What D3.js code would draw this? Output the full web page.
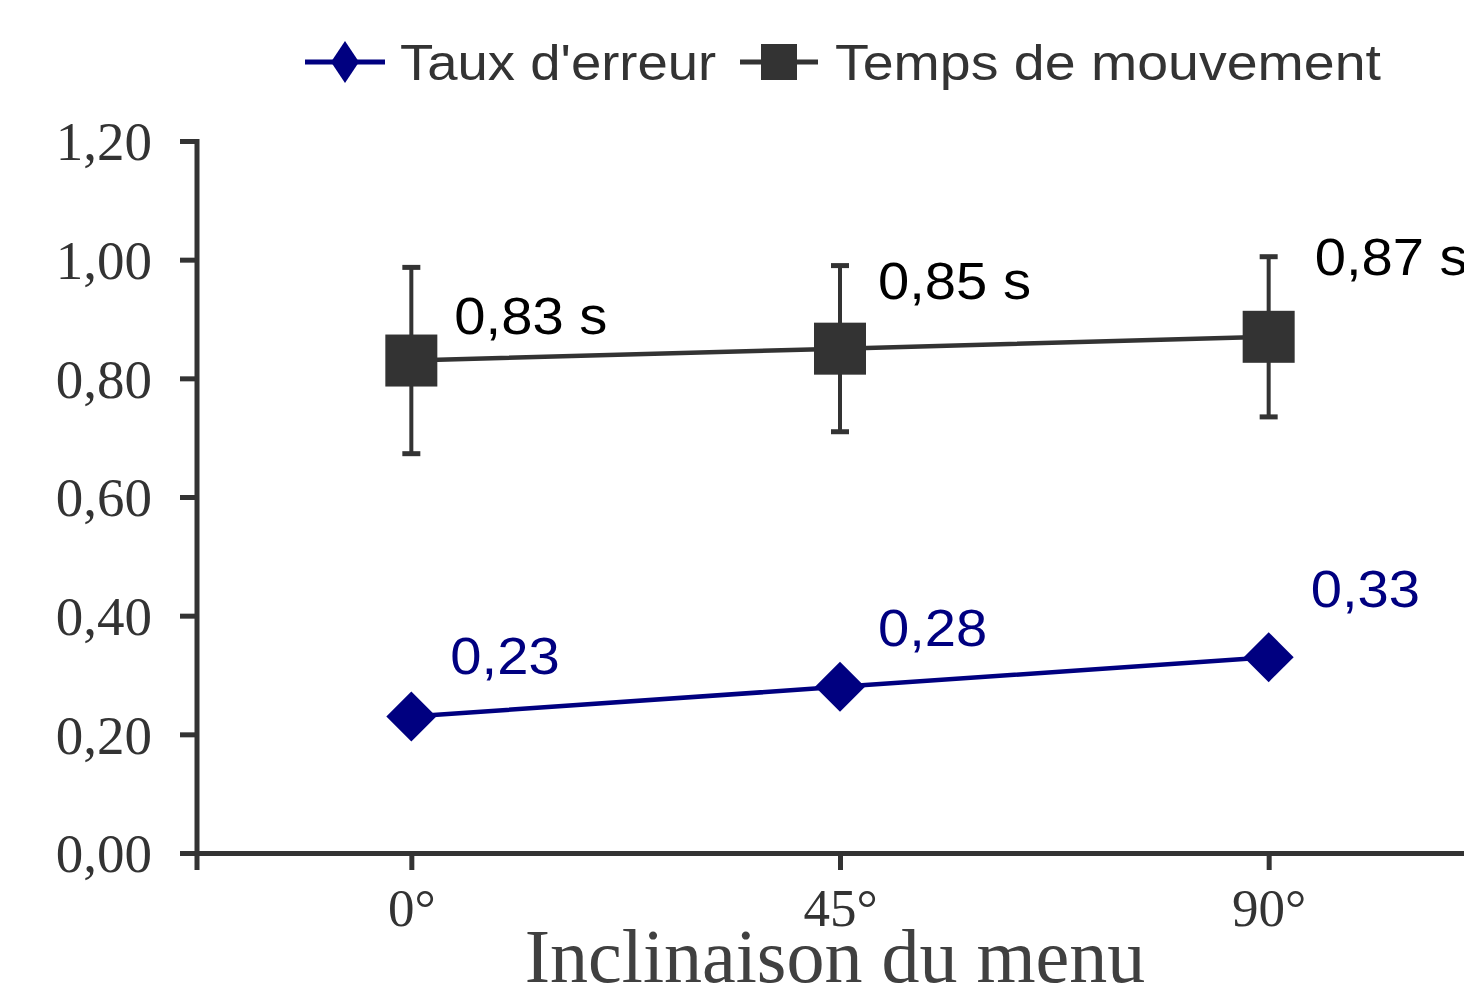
<!DOCTYPE html>
<html>
<head>
<meta charset="utf-8">
<script src="https://cdn.jsdelivr.net/npm/d3@7"></script>
<style>
  body { margin: 0; background: #fff; }
  svg { display: block; }
</style>
</head>
<body>
<svg id="chart"></svg>
<script>
// Data
const categories = ["0°", "45°", "90°"];
const tauxErreur = [0.23, 0.28, 0.33];
const tempsMouvement = [0.83, 0.85, 0.87];
const tempsErreurs = [0.157, 0.14, 0.135];
const tauxLabels = ["0,23", "0,28", "0,33"];
const tempsLabels = ["0,83 s", "0,85 s", "0,87 s"];
const yTicks = [0, 0.2, 0.4, 0.6, 0.8, 1.0, 1.2];

// Label offsets (placed by hand in the original)
const tauxOffsets = [[39, -43], [38, -41], [42, -50]];
const tempsOffsets = [[43, -27], [38, -50], [46, -62]];

const width = 1464;
const height = 998;
const navy = "#000080";
const dark = "#333333";
const sans = "'Liberation Sans', Arial, sans-serif";
const serif = "'Liberation Serif', 'Times New Roman', serif";

const svg = d3.select("#chart")
  .attr("width", width)
  .attr("height", height);

// Sans texts in the original are a little wider than Arial
function wideText(g, x, y, txt, size, fill, stretch) {
  return g.append("text")
    .attr("transform", `translate(${x},${y}) scale(${stretch},1)`)
    .attr("font-family", sans)
    .attr("font-size", size)
    .attr("fill", fill)
    .text(txt);
}

// Scales
const x = d3.scalePoint()
  .domain(categories)
  .range([197, 1483])
  .padding(0.5);

const y = d3.scaleLinear()
  .domain([0, 1.2])
  .range([853, 141]);

const fmt = (v) => v.toFixed(2).replace(".", ",");

// Y axis
const yAxis = d3.axisLeft(y)
  .tickValues(yTicks)
  .tickFormat(fmt)
  .tickSize(17)
  .tickSizeOuter(0)
  .tickPadding(28);

const gy = svg.append("g")
  .attr("transform", "translate(197,0)")
  .call(yAxis);
gy.select(".domain").remove();
gy.selectAll(".tick line").attr("stroke", dark).attr("stroke-width", 5);
gy.selectAll(".tick text")
  .attr("font-family", serif)
  .attr("font-size", 55)
  .attr("fill", "#333")
  .attr("dy", "0.34em");

// X axis
const xAxis = d3.axisBottom(x)
  .tickSize(17)
  .tickSizeOuter(0)
  .tickPadding(18);

const gx = svg.append("g")
  .attr("transform", `translate(0,${y(0)})`)
  .call(xAxis);
gx.select(".domain").attr("stroke", dark).attr("stroke-width", 5);
gx.selectAll(".tick line").attr("stroke", dark).attr("stroke-width", 5);
gx.selectAll(".tick text")
  .attr("font-family", serif)
  .attr("font-size", 53)
  .attr("fill", "#333")
  .attr("dy", "0.71em");

// Y axis line (reaching below the x axis)
svg.append("line")
  .attr("x1", 197).attr("x2", 197)
  .attr("y1", y(1.2) - 2).attr("y2", y(0) + 17)
  .attr("stroke", dark)
  .attr("stroke-width", 5);

// Axis title
svg.append("text")
  .attr("x", 835)
  .attr("y", 982)
  .attr("text-anchor", "middle")
  .attr("font-family", serif)
  .attr("font-size", 76)
  .attr("fill", "#404040")
  .text("Inclinaison du menu");

const line = d3.line()
  .x((d, i) => x(categories[i]))
  .y((d) => y(d));

// Temps de mouvement: error bars
const errG = svg.append("g");
tempsMouvement.forEach((v, i) => {
  const cx = x(categories[i]);
  const e = tempsErreurs[i];
  errG.append("line")
    .attr("x1", cx).attr("x2", cx)
    .attr("y1", y(v + e)).attr("y2", y(v - e))
    .attr("stroke", dark).attr("stroke-width", 4);
  [v + e, v - e].forEach((c) => {
    errG.append("line")
      .attr("x1", cx - 9).attr("x2", cx + 9)
      .attr("y1", y(c)).attr("y2", y(c))
      .attr("stroke", dark).attr("stroke-width", 5);
  });
});

// Temps de mouvement: line + squares
svg.append("path")
  .datum(tempsMouvement)
  .attr("fill", "none")
  .attr("stroke", dark)
  .attr("stroke-width", 4.5)
  .attr("d", line);

svg.append("g")
  .selectAll("rect")
  .data(tempsMouvement)
  .enter().append("rect")
    .attr("x", (d, i) => x(categories[i]) - 26)
    .attr("y", (d) => y(d) - 26)
    .attr("width", 52)
    .attr("height", 52)
    .attr("fill", dark);

// Taux d'erreur: line + diamonds
svg.append("path")
  .datum(tauxErreur)
  .attr("fill", "none")
  .attr("stroke", navy)
  .attr("stroke-width", 4.5)
  .attr("d", line);

const diamond = "M0,-25L25,0L0,25L-25,0Z";
svg.append("g")
  .selectAll("path")
  .data(tauxErreur)
  .enter().append("path")
    .attr("transform", (d, i) => `translate(${x(categories[i])},${y(d)})`)
    .attr("d", diamond)
    .attr("fill", navy);

// Data labels
const labels = svg.append("g");
tempsMouvement.forEach((d, i) => {
  wideText(labels,
    x(categories[i]) + tempsOffsets[i][0],
    y(d) + tempsOffsets[i][1],
    tempsLabels[i], 52, "#000", 1.08);
});
tauxErreur.forEach((d, i) => {
  wideText(labels,
    x(categories[i]) + tauxOffsets[i][0],
    y(d) + tauxOffsets[i][1],
    tauxLabels[i], 52, navy, 1.08);
});

// Legend
const legend = svg.append("g").attr("class", "legend");

legend.append("line")
  .attr("x1", 305).attr("x2", 385)
  .attr("y1", 62).attr("y2", 62)
  .attr("stroke", navy).attr("stroke-width", 5);
legend.append("path")
  .attr("transform", "translate(345,62)")
  .attr("d", "M0,-21L14,0L0,21L-14,0Z")
  .attr("fill", navy);
wideText(legend, 400, 80, "Taux d'erreur", 50, "#333", 1.09);

legend.append("line")
  .attr("x1", 740).attr("x2", 818)
  .attr("y1", 62).attr("y2", 62)
  .attr("stroke", dark).attr("stroke-width", 5);
legend.append("rect")
  .attr("x", 761).attr("y", 44)
  .attr("width", 36).attr("height", 36)
  .attr("fill", dark);
wideText(legend, 835, 80, "Temps de mouvement", 50, "#333", 1.11);
</script>
</body>
</html>
